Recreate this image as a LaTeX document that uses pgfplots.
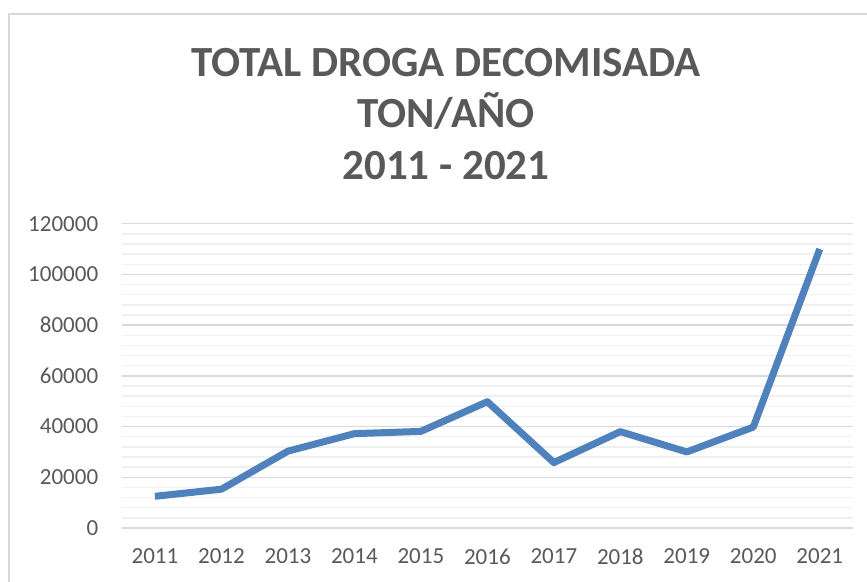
\documentclass[border=0pt]{standalone}
\usepackage{pgfplots}
\pgfplotsset{compat=1.18}
\usepackage{fontspec}
\setmainfont{Carlito}
\definecolor{txtc}{HTML}{595959}
\definecolor{gridc}{HTML}{D9D9D9}
\definecolor{minorc}{HTML}{F0F0F0}
\definecolor{linec}{HTML}{4F81BD}
\begin{document}
\begin{tikzpicture}[x=1pt,y=1pt]
\useasboundingbox (0,0) rectangle (867,581);
\fill[white] (0,0) rectangle (867,581);
\draw[gridc, line width=1.5pt] (9,-30) -- (9,567) -- (900,567);
\begin{axis}[
  at={(121.7pt,53pt)}, anchor=south west,
  width=731.3pt, height=304.3pt, scale only axis,
  xmin=-0.5, xmax=10.5, ymin=0, ymax=120000,
  xtick={0,...,10},
  xticklabels={2011,2012,2013,2014,2015,2016,2017,2018,2019,2020,2021},
  ytick={0,20000,40000,60000,80000,100000,120000},
  yticklabels={0,20000,40000,60000,80000,100000,120000},
  minor y tick num=4,
  ymajorgrids, yminorgrids,
  major grid style={draw=gridc, line width=1.5pt},
  minor grid style={draw=minorc, line width=1.5pt},
  axis line style={draw=none},
  major tick length=0pt, minor tick length=0pt,
  scaled y ticks=false,
  tick label style={font=\fontsize{23}{27}\selectfont, text=txtc},
  yticklabel style={xshift=-20pt},
  xticklabel style={yshift=-17pt},
  clip=false,
]
\addplot[draw=linec, line width=7pt, line join=round, line cap=butt] coordinates {
(0,12500) (1,15300) (2,30300) (3,37200) (4,38100) (5,49800)
(6,25800) (7,38000) (8,30000) (9,39800) (10,110000)
};
\end{axis}
\begin{scope}[every node/.style={text=txtc, font=\fontsize{43}{50}\selectfont\bfseries}]
\node[anchor=base] at (446,504) {TOTAL DROGA DECOMISADA};
\node[anchor=base] at (446,453) {TON/AÑO};
\node[anchor=base] at (446,401) {2011 - 2021};
\end{scope}
\end{tikzpicture}
\end{document}
